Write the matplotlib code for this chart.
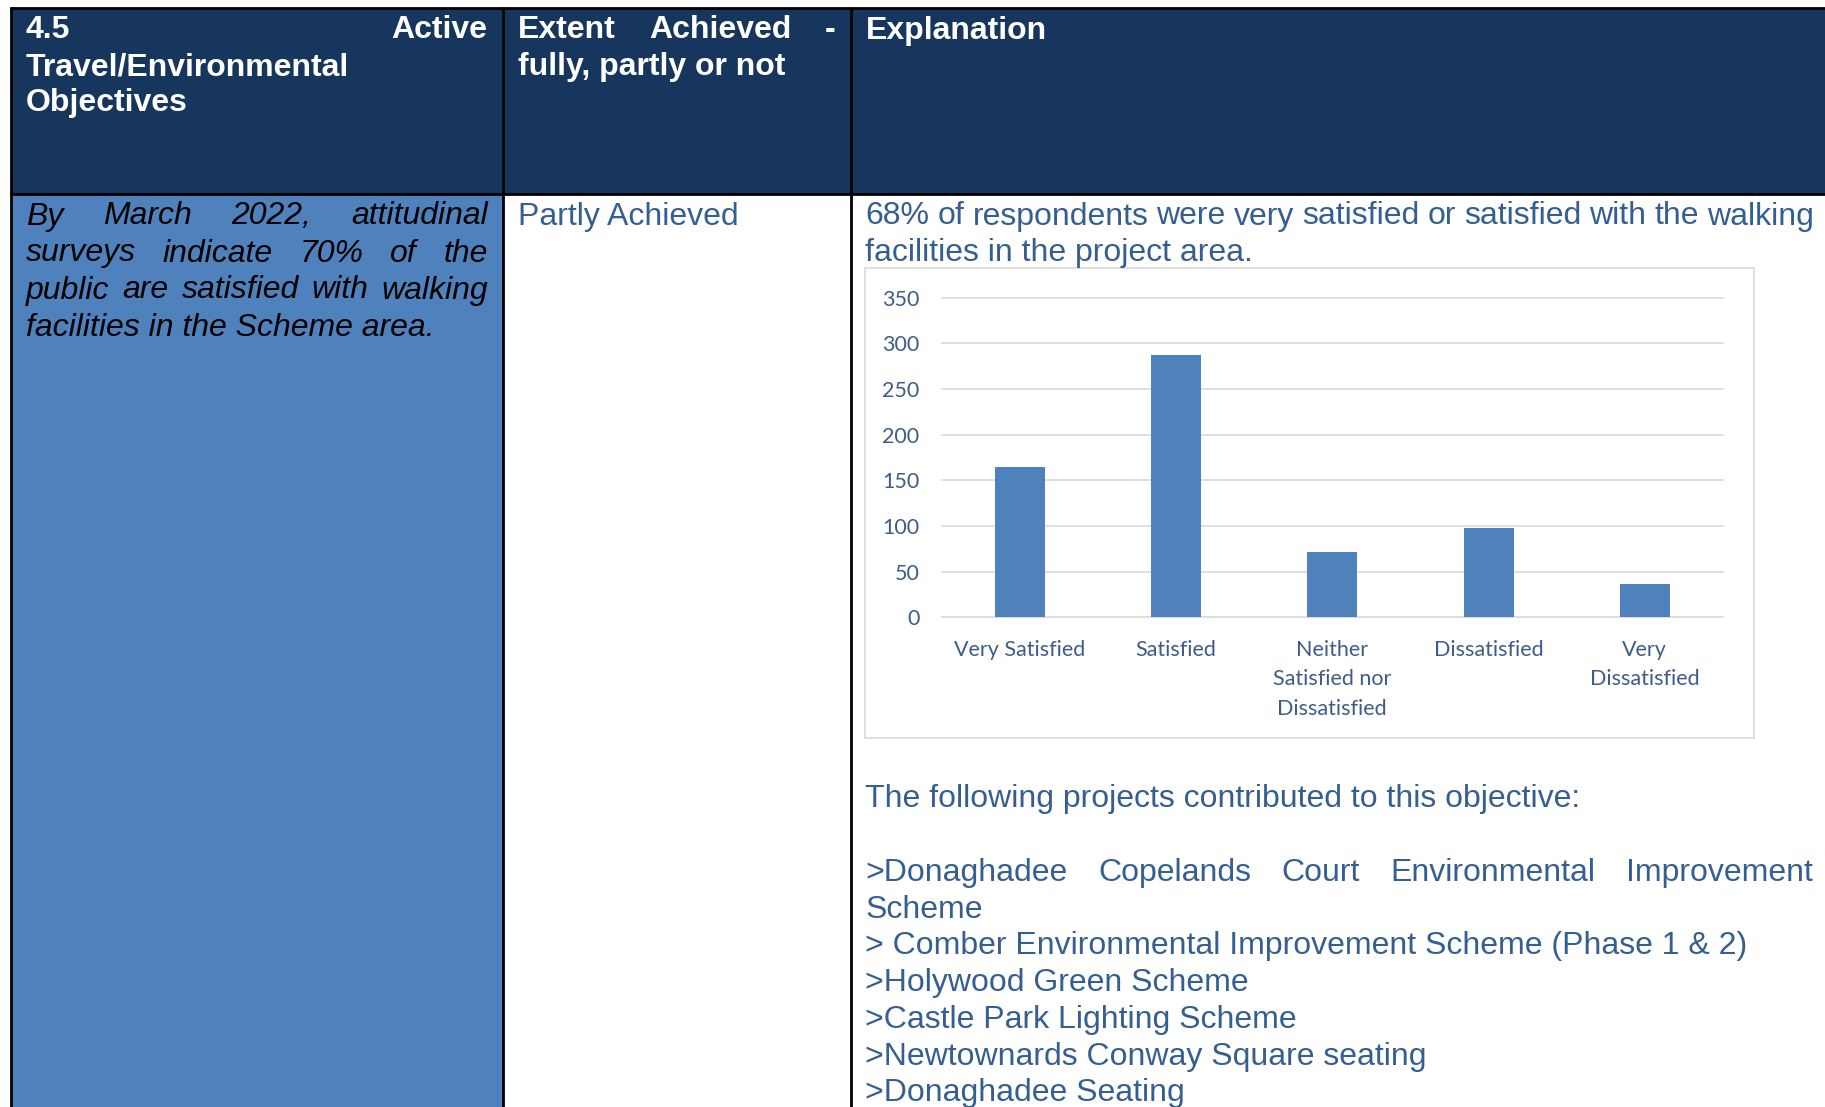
import matplotlib
matplotlib.use('Agg')
import matplotlib.pyplot as plt
from matplotlib.patches import Rectangle

# --------- chart data -------- #
categories = ['Very Satisfied', 'Satisfied', 'Neither\nSatisfied nor\nDissatisfied',
              'Dissatisfied', 'Very\nDissatisfied']
responses = [165, 287, 72, 98, 36]
y_ticks = [0, 50, 100, 150, 200, 250, 300, 350]

# --------- table text -------- #
header_objective = ['4.5 Active', 'Travel/Environmental', 'Objectives']
header_extent = ['Extent Achieved -', 'fully, partly or not']
header_explanation = ['Explanation']
objective_lines = ['By March 2022, attitudinal', 'surveys indicate 70% of the',
                   'public are satisfied with walking', 'facilities in the Scheme area.']
extent_text = 'Partly Achieved'
summary_lines = ['68% of respondents were very satisfied or satisfied with the walking',
                 'facilities in the project area.']
intro_line = 'The following projects contributed to this objective:'
project_lines = ['>Donaghadee Copelands Court Environmental Improvement', 'Scheme',
                 '> Comber Environmental Improvement Scheme (Phase 1 & 2)',
                 '>Holywood Green Scheme', '>Castle Park Lighting Scheme',
                 '>Newtownards Conway Square seating', '>Donaghadee Seating']

W, H = 1825, 1107
NAVY = '#17365D'
BLUE = '#4F81BD'
TEXT_BLUE = '#365F91'
TICK_BLUE = '#3E5C8A'
GRID = '#D9D9D9'
FONT = 'Liberation Sans'

fig = plt.figure(figsize=(W / 100, H / 100), dpi=100)
page = fig.add_axes([0, 0, 1, 1])
page.set_xlim(0, W)
page.set_ylim(H, 0)
page.axis('off')
renderer = fig.canvas.get_renderer()

# cell fills
page.add_patch(Rectangle((11, 8), W - 11, 186, fc=NAVY, ec='none'))
page.add_patch(Rectangle((11, 194), 492, H - 194, fc=BLUE, ec='none'))

# cell borders
bw = 2.0
page.plot([10, W], [7.5, 7.5], color='black', lw=bw, solid_capstyle='butt')
page.plot([10, W], [194, 194], color='black', lw=bw, solid_capstyle='butt')
for xv in [11, 503, 851]:
    page.plot([xv, xv], [6.5, H], color='black', lw=bw, solid_capstyle='butt')

# chart frame
page.add_patch(Rectangle((865, 268), 889, 470, fc='white', ec=GRID, lw=1.2))


def text_line(s, x0, y, x1=None, **kw):
    """Draw one line of text, spread the words to x1 if given (justified)"""
    kw.setdefault('family', FONT)
    kw.setdefault('fontsize', 23)
    kw.setdefault('va', 'baseline')
    words = s.split()
    if x1 is None or len(words) < 2:
        page.text(x0, y, s, **kw)
        return
    items = [page.text(0, y, w, **kw) for w in words]
    widths = [t.get_window_extent(renderer).width for t in items]
    gap = (x1 - x0 - sum(widths)) / (len(words) - 1)
    x = x0
    for t, w in zip(items, widths):
        t.set_x(x)
        x += w + gap


# header row
hdr = dict(color='white', fontweight='bold')
head_y = [38.5, 75, 111.5]
text_line(header_objective[0], 25.6, head_y[0], 487, **hdr)
for line, y in zip(header_objective[1:], head_y[1:]):
    text_line(line, 25.6, y, **hdr)
text_line(header_extent[0], 518, head_y[0], 835, **hdr)
text_line(header_extent[1], 518, head_y[1], **hdr)
text_line(header_explanation[0], 865.5, head_y[0], **hdr)

# body row
body_y = [224.5 + 37 * i for i in range(4)]
for i, line in enumerate(objective_lines):
    right = 488 if i < len(objective_lines) - 1 else None
    text_line(line, 26, body_y[i], right, color='black', style='italic')

text_line(extent_text, 518, body_y[0], color=TEXT_BLUE)

text_line(summary_lines[0], 865.5, body_y[0], 1814, color=TEXT_BLUE)
text_line(summary_lines[1], 865.5, body_y[1], color=TEXT_BLUE)

text_line(intro_line, 865.5, 806.7, color=TEXT_BLUE)
for i, line in enumerate(project_lines):
    right = 1813 if i == 0 else None
    text_line(line, 865.5, 880.7 + 36.8 * i, right, color=TEXT_BLUE)

# --------- bar chart -------- #
cx0, cx1 = 941.5, 1723
cy_top, cy_bot = 297.7, 617.3
chart = fig.add_axes([cx0 / W, 1 - cy_bot / H, (cx1 - cx0) / W, (cy_bot - cy_top) / H])
chart.patch.set_visible(False)

xs = list(range(len(categories)))
chart.bar(xs, responses, width=0.32, color=BLUE, zorder=3)
chart.set_xlim(-0.5, len(categories) - 0.5)
chart.set_ylim(0, 350)
chart.set_yticks(y_ticks)
chart.set_xticks(xs)
chart.set_xticklabels(categories, linespacing=1.6)
chart.yaxis.grid(True, color=GRID, lw=1.2)
chart.set_axisbelow(True)
for ln in chart.get_ygridlines():
    ln.set_clip_on(False)
for sp in chart.spines.values():
    sp.set_visible(False)
chart.tick_params(length=0, colors=TICK_BLUE, labelsize=15.5, pad=16)
for lab in chart.get_xticklabels() + chart.get_yticklabels():
    lab.set_family('Lato')

fig.savefig('out.png', dpi=100)
